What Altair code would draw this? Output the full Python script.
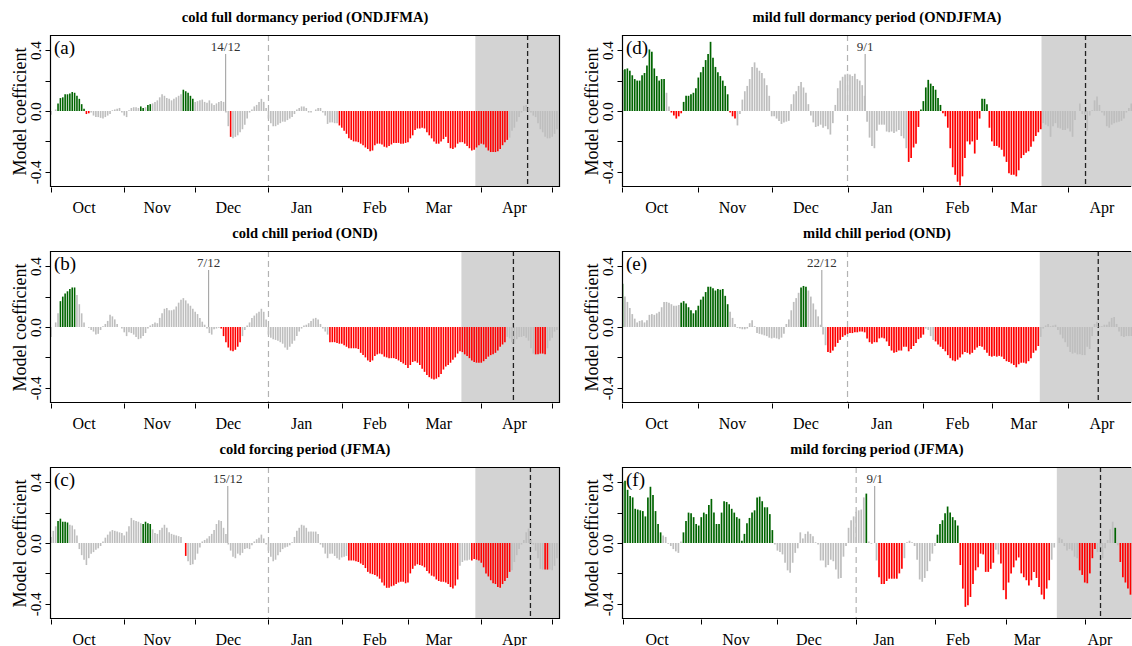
import altair as alt
import pandas as pd

FONT = "Liberation Serif"
W, H = 510, 152
GREEN, RED, GRAY = "#006400", "#ff0000", "#bebebe"

MONTHS = ["Oct", "Nov", "Dec", "Jan", "Feb", "Mar", "Apr"]
MONTH_MID = [14, 45, 75, 106, 137, 164, 196]
F_MONTH_MID = [13.6, 44.7, 73.4, 102.9, 132.1, 159.3, 188.0]
MONTH_START = [0, 31, 61, 92, 123, 151, 182, 212]

# ---------------- panel (a) cold full dormancy ----------------
A_VAL = [
    -0.025, 0.0, 0.01, 0.05, 0.085, 0.09, 0.11, 0.11, 0.115, 0.125,
    0.12, 0.10, 0.08, 0.045, 0.015, -0.02, -0.015, -0.01, -0.03, -0.04,
    -0.04, -0.045, -0.05, -0.04, -0.03, -0.02, 0.005, 0.01, 0.015, 0.02,
    -0.01, -0.03, -0.04, 0.005, 0.02, 0.025, 0.025, 0.02, 0.03, 0.02,
    0.025, 0.04, 0.045, 0.05, 0.06, 0.07, 0.09, 0.11, 0.1, 0.085,
    0.08, 0.07, 0.08, 0.09, 0.1, 0.11, 0.14, 0.13, 0.12, 0.1,
    0.08, 0.06, 0.065, 0.07, 0.075, 0.06, 0.055, 0.07, 0.05, 0.04,
    0.05, 0.06, 0.065, 0.06, -0.01, -0.1, -0.17, -0.18, -0.17, -0.16,
    -0.14, -0.12, -0.09, -0.05, -0.01, 0.01, 0.03, 0.04, 0.06, 0.08,
    0.06, 0.02, -0.05, -0.08, -0.1, -0.1, -0.09, -0.08, -0.07, -0.07,
    -0.06, -0.05, -0.04, -0.02, 0.01, 0.02, 0.03, 0.03, 0.02, -0.01,
    -0.01, 0.0, 0.01, 0.02, 0.02, -0.01, -0.03, -0.085, -0.075, -0.075,
    -0.08, -0.08, -0.095, -0.11, -0.13, -0.15, -0.18, -0.19, -0.2, -0.2,
    -0.205, -0.215, -0.225, -0.24, -0.25, -0.265, -0.26, -0.225, -0.215, -0.215,
    -0.22, -0.235, -0.24, -0.23, -0.22, -0.21, -0.21, -0.21, -0.215, -0.215,
    -0.21, -0.205, -0.18, -0.16, -0.125, -0.115, -0.115, -0.11, -0.115, -0.14,
    -0.16, -0.18, -0.2, -0.215, -0.215, -0.2, -0.185, -0.17, -0.21, -0.245,
    -0.25, -0.24, -0.215, -0.205, -0.205, -0.215, -0.23, -0.245, -0.26, -0.255,
    -0.24, -0.225, -0.215, -0.22, -0.24, -0.26, -0.27, -0.27, -0.27, -0.265,
    -0.25, -0.225, -0.205, -0.19, -0.175, -0.13, -0.11, -0.07, -0.04, -0.01,
    0.035, 0.04, 0.02, -0.01, -0.03, -0.04, -0.08, -0.12, -0.14, -0.17,
    -0.18, -0.18, -0.17, -0.15, -0.12,
]
A_GREEN = [(3, 14), (38, 39), (41, 42), (56, 60)]
A_RED = [(15, 16), (76, 76), (122, 193)]

# ---------------- panel (b) cold chill ----------------
B_VAL = [
    -0.065, 0.0, 0.03, 0.09, 0.17, 0.2, 0.22, 0.235, 0.25, 0.26,
    0.26, 0.21, 0.15, 0.09, 0.03, 0.0, -0.005, -0.02, -0.03, -0.05,
    -0.045, -0.02, 0.005, 0.02, 0.04, 0.08, 0.07, 0.05, 0.02, 0.0,
    -0.01, -0.035, -0.06, -0.035, -0.04, -0.05, -0.065, -0.08, -0.075, -0.06,
    -0.04, -0.01, 0.01, 0.02, 0.03, 0.025, 0.06, 0.09, 0.12, 0.125,
    0.11, 0.11, 0.115, 0.135, 0.16, 0.18, 0.19, 0.175, 0.155, 0.14,
    0.12, 0.1, 0.085, 0.06, 0.035, 0.015, -0.01, -0.04, -0.05, -0.015,
    -0.01, -0.005, -0.01, -0.06, -0.1, -0.135, -0.155, -0.16, -0.15, -0.13,
    -0.1, -0.06, -0.02, 0.01, 0.03, 0.06, 0.075, 0.09, 0.1, 0.12,
    0.1, 0.05, -0.05, -0.07, -0.08, -0.085, -0.09, -0.1, -0.11, -0.135,
    -0.15, -0.13, -0.11, -0.09, -0.06, -0.03, -0.01, 0.01, 0.015, 0.025,
    0.04, 0.055, 0.06, 0.05, 0.02, -0.01, -0.03, -0.05, -0.1, -0.1,
    -0.1, -0.105, -0.11, -0.11, -0.12, -0.13, -0.14, -0.14, -0.14, -0.14,
    -0.145, -0.17, -0.185, -0.2, -0.22, -0.23, -0.22, -0.19, -0.18, -0.175,
    -0.18, -0.195, -0.2, -0.205, -0.205, -0.205, -0.21, -0.22, -0.23, -0.24,
    -0.25, -0.27, -0.25, -0.23, -0.225, -0.235, -0.25, -0.275, -0.295, -0.315,
    -0.33, -0.34, -0.345, -0.34, -0.33, -0.31, -0.28, -0.26, -0.25, -0.235,
    -0.215, -0.2, -0.175, -0.16, -0.165, -0.18, -0.19, -0.205, -0.22, -0.23,
    -0.235, -0.235, -0.235, -0.225, -0.21, -0.195, -0.185, -0.18, -0.17, -0.155,
    -0.13, -0.115, -0.1, -0.065, -0.075, -0.1, -0.11, -0.08, -0.065, -0.065,
    -0.06, -0.07, -0.09, -0.14, -0.175, -0.18, -0.18, -0.175, -0.175, -0.18,
    -0.14, -0.09, -0.07, -0.03, -0.02,
]
B_GREEN = [(4, 10)]
B_RED = [(72, 80), (118, 192), (205, 209)]

# ---------------- panel (c) cold forcing ----------------
C_VAL = [
    0.04, 0.08, 0.11, 0.145, 0.16, 0.14, 0.14, 0.135, 0.12, 0.115,
    0.09, 0.05, -0.04, -0.08, -0.11, -0.145, -0.1, -0.07, -0.06, -0.045,
    -0.035, -0.02, 0.01, 0.035, 0.055, 0.075, 0.085, 0.08, 0.075, 0.07,
    0.065, 0.05, 0.075, 0.11, 0.165, 0.15, 0.145, 0.14, 0.13, 0.125,
    0.14, 0.13, 0.125, 0.09, 0.065, 0.06, 0.085, 0.1, 0.12, 0.1,
    0.07, 0.06, 0.055, 0.05, 0.045, 0.04, 0.0, -0.085, -0.12, -0.145,
    -0.14, -0.11, -0.07, -0.03, 0.01, 0.02, 0.03, 0.045, 0.06, 0.085,
    0.125, 0.15, 0.145, 0.1, 0.06, -0.01, -0.05, -0.09, -0.1, -0.07,
    -0.08, -0.065, -0.04, -0.035, -0.04, -0.015, 0.01, 0.025, 0.035, 0.055,
    0.03, -0.01, -0.05, -0.09, -0.12, -0.11, -0.08, -0.06, -0.04, -0.03,
    -0.025, -0.015, 0.005, 0.04, 0.08, 0.1, 0.12, 0.115, 0.1, 0.075,
    0.075, 0.075, 0.075, 0.06, -0.01, -0.03, -0.07, -0.1, -0.07, -0.07,
    -0.085, -0.1, -0.11, -0.095, -0.09, -0.085, -0.115, -0.115, -0.115, -0.12,
    -0.125, -0.135, -0.145, -0.165, -0.19, -0.2, -0.205, -0.21, -0.22, -0.235,
    -0.26, -0.28, -0.295, -0.295, -0.285, -0.28, -0.27, -0.26, -0.255, -0.255,
    -0.265, -0.26, -0.2, -0.17, -0.15, -0.14, -0.145, -0.15, -0.16, -0.185,
    -0.2, -0.215, -0.22, -0.24, -0.25, -0.255, -0.255, -0.26, -0.27, -0.29,
    -0.3, -0.28, -0.24, -0.15, -0.125, -0.115, -0.115, -0.11, -0.115, -0.105,
    -0.11, -0.115, -0.13, -0.16, -0.2, -0.22, -0.245, -0.265, -0.27, -0.29,
    -0.295, -0.27, -0.25, -0.23, -0.19, -0.18, -0.125, -0.08, -0.04, -0.01,
    0.02, 0.07, 0.095, 0.02, -0.01, -0.05, -0.1, -0.17, -0.175, -0.175,
    -0.175, -0.175, -0.18, -0.15, -0.1,
]
C_GREEN = [(3, 7), (39, 42)]
C_RED = [(57, 57), (126, 172), (178, 194), (209, 210)]

# ---------------- panel (d) mild full dormancy ----------------
D_VAL = [
    0.27, 0.275, 0.28, 0.265, 0.235, 0.21, 0.2, 0.2, 0.235, 0.25,
    0.3, 0.405, 0.39, 0.28, 0.23, 0.2, 0.21, 0.21, 0.12, 0.03,
    -0.01, -0.03, -0.05, -0.035, -0.015, 0.06, 0.1, 0.1, 0.11, 0.12,
    0.15, 0.22, 0.255, 0.29, 0.335, 0.375, 0.455, 0.35, 0.29, 0.255,
    0.23, 0.2, 0.165, 0.11, -0.01, -0.035, -0.05, -0.095, -0.02, 0.075,
    0.13, 0.165, 0.21, 0.29, 0.32, 0.285, 0.265, 0.25, 0.215, 0.17,
    0.1, -0.035, -0.035, -0.05, -0.065, -0.085, -0.075, -0.07, -0.065, 0.045,
    0.11, 0.13, 0.165, 0.19, 0.155, 0.12, 0.045, -0.03, -0.075, -0.105,
    -0.1, -0.09, -0.11, -0.1, -0.12, -0.155, -0.08, 0.04, 0.15, 0.2,
    0.225, 0.24, 0.245, 0.24, 0.23, 0.245, 0.21, 0.2, 0.17, 0.1,
    -0.07, -0.175, -0.23, -0.245, -0.13, -0.09, -0.09, -0.09, -0.135, -0.14,
    -0.135, -0.145, -0.135, -0.125, -0.165, -0.18, -0.245, -0.335, -0.31, -0.24,
    -0.215, -0.105, 0.01, 0.065, 0.155, 0.205, 0.18, 0.165, 0.14, 0.085,
    0.04, -0.015, -0.035, -0.11, -0.245, -0.37, -0.42, -0.465, -0.49, -0.43,
    -0.31, -0.2, -0.22, -0.2, -0.28, -0.19, -0.05, 0.08, 0.08, 0.045,
    -0.11, -0.2, -0.23, -0.23, -0.24, -0.255, -0.3, -0.335, -0.41, -0.42,
    -0.42, -0.43, -0.39, -0.31, -0.29, -0.275, -0.265, -0.235, -0.2, -0.165,
    -0.14, -0.12, -0.08, -0.09, -0.1, -0.17, -0.1, -0.08, -0.11, -0.115,
    -0.125, -0.125, -0.115, -0.135, -0.17, -0.06, 0.0, 0.05, -0.02, -0.025,
    -0.13, -0.03, 0.005, 0.07, 0.095, 0.04, -0.01, -0.03, -0.1, -0.11,
    -0.09, -0.08, -0.075, -0.07, -0.065, -0.05, -0.01, 0.02, 0.05,
]
D_GREEN = [(0, 17), (25, 43), (122, 130), (147, 149)]
D_RED = [(20, 24), (44, 46), (117, 121), (131, 146), (150, 171)]

# ---------------- panel (e) mild chill ----------------
E_VAL = [
    0.285, 0.2, 0.165, 0.125, 0.085, 0.055, 0.03, 0.04, 0.045, 0.03,
    0.045, 0.08, 0.085, 0.08, 0.09, 0.1, 0.13, 0.165, 0.165, 0.16,
    0.15, 0.14, 0.14, 0.145, 0.16, 0.17, 0.155, 0.13, 0.11, 0.09,
    0.11, 0.14, 0.18, 0.2, 0.23, 0.265, 0.265, 0.255, 0.24, 0.25,
    0.245, 0.25, 0.205, 0.15, 0.1, 0.06, 0.02, -0.005, -0.01, -0.015,
    -0.015, -0.01, 0.025, 0.045, 0.005, -0.04, -0.045, -0.05, -0.055, -0.06,
    -0.07, -0.075, -0.07, -0.075, -0.08, -0.07, -0.045, 0.02, 0.05, 0.11,
    0.165, 0.19, 0.225, 0.26, 0.27, 0.265, 0.24, 0.2, 0.155, 0.115,
    0.07, 0.015, -0.05, -0.12, -0.165, -0.17, -0.155, -0.13, -0.105, -0.085,
    -0.065, -0.055, -0.045, -0.04, -0.04, -0.035, -0.035, -0.03, -0.03, -0.035,
    -0.075, -0.1, -0.11, -0.1, -0.1, -0.075, -0.07, -0.075, -0.095, -0.125,
    -0.155, -0.17, -0.165, -0.155, -0.155, -0.13, -0.13, -0.16, -0.145, -0.125,
    -0.105, -0.08, -0.07, -0.05, -0.01, -0.02, -0.06, -0.085, -0.095, -0.115,
    -0.13, -0.145, -0.16, -0.185, -0.205, -0.22, -0.225, -0.215, -0.2, -0.18,
    -0.165, -0.17, -0.18, -0.17, -0.15, -0.135, -0.125, -0.13, -0.15, -0.17,
    -0.19, -0.195, -0.19, -0.195, -0.19, -0.195, -0.21, -0.225, -0.23, -0.24,
    -0.25, -0.265, -0.245, -0.235, -0.235, -0.24, -0.225, -0.205, -0.17, -0.155,
    -0.125, -0.065, -0.01, 0.01, 0.02, 0.005, 0.01, 0.015, -0.02, -0.05,
    -0.075, -0.1, -0.13, -0.165, -0.175, -0.17, -0.18, -0.18, -0.185, -0.185,
    -0.13, -0.145, -0.06, 0.02, 0.035, 0.005, 0.005, 0.015, 0.015, 0.035,
    0.06, 0.065, 0.02, -0.03, -0.06, -0.065, -0.06, -0.06, -0.06,
]
E_GREEN = [(0, 0), (24, 43), (73, 75)]
E_RED = [(84, 123), (128, 170)]

# ---------------- panel (f) mild forcing ----------------
F_VAL = [
    0.4, 0.41, 0.35, 0.31, 0.3, 0.225, 0.22, 0.215, 0.21, 0.175,
    0.3, 0.37, 0.315, 0.21, 0.125, 0.07, 0.05, 0.04, -0.005, -0.02,
    -0.04, -0.055, -0.065, 0.01, 0.07, 0.145, 0.2, 0.195, 0.17, 0.125,
    0.115, 0.17, 0.2, 0.19, 0.25, 0.29, 0.2, 0.125, 0.125, 0.2,
    0.275, 0.27, 0.255, 0.225, 0.2, 0.17, 0.16, 0.015, 0.06, 0.13,
    0.165, 0.2, 0.215, 0.3, 0.305, 0.275, 0.235, 0.235, 0.19, 0.085,
    -0.01, -0.05, -0.06, -0.075, -0.13, -0.18, -0.195, -0.13, -0.065, -0.035,
    0.07, 0.03, 0.06, 0.075, 0.06, 0.045, 0.005, -0.01, -0.115, -0.115,
    -0.16, -0.145, -0.11, -0.12, -0.175, -0.235, -0.23, -0.09, -0.02, 0.1,
    0.15, 0.175, 0.205, 0.215, 0.22, 0.3, 0.325, 0.01, -0.005, 0.0,
    -0.115, -0.225, -0.27, -0.27, -0.25, -0.235, -0.235, -0.235, -0.235, -0.2,
    -0.17, -0.1, 0.005, 0.015, 0.005, -0.02, -0.11, -0.24, -0.255, -0.23,
    -0.185, -0.12, -0.07, -0.02, 0.055, 0.125, 0.15, 0.195, 0.24, 0.2,
    0.17, 0.15, 0.115, -0.145, -0.3, -0.42, -0.41, -0.355, -0.27, -0.18,
    -0.16, -0.07, -0.075, -0.19, -0.19, -0.17, -0.13, -0.045, -0.075, -0.135,
    -0.31, -0.37, -0.26, -0.2, -0.16, -0.115, -0.095, -0.2, -0.225, -0.245,
    -0.28, -0.245, -0.19, -0.23, -0.29, -0.34, -0.37, -0.3, -0.245, -0.11,
    -0.03, 0.0, 0.035, 0.025, -0.02, -0.05, -0.04, -0.05, -0.09, -0.1,
    -0.18, -0.21, -0.26, -0.265, -0.2, -0.1, -0.04, -0.06, -0.03, -0.1,
    -0.035, 0.02, 0.09, 0.14, 0.1, -0.015, -0.125, -0.225, -0.26, -0.3,
    -0.34,
]
F_GREEN = [(0, 15), (24, 59), (96, 96), (124, 132), (194, 194)]
F_RED = [(101, 110), (133, 146), (149, 168), (180, 186), (196, 200)]

LEFT_DOM = [-0.4, 215.3]
RIGHT_DOM = [-0.2, 208.3]
F_DOM = [-0.2, 200.6]


def panel(letter, title, vals, green, red, xdom, shade, black, date_pos,
          date_txt, col, row, mids=MONTH_MID):
    n = len(vals)
    sig = ["n"] * n
    for s, e in green:
        for d in range(s, e + 1):
            sig[d] = "g"
    for s, e in red:
        for d in range(s, e + 1):
            sig[d] = "r"
    df = pd.DataFrame({"day": list(range(n)), "value": vals, "sig": sig})
    xs = alt.Scale(domain=xdom, nice=False, zero=False)
    ys = alt.Scale(domain=[-0.5, 0.5], nice=False, zero=False)
    ticks = [m for m in MONTH_START if xdom[0] <= m <= xdom[1]]
    one = pd.DataFrame({"k": [0]})
    xr = W if col == 0 else W - 1

    yaxis = alt.Axis(
        values=[-0.4, -0.2, 0, 0.2, 0.4],
        labelExpr="datum.value > 0.3 ? '0.4' : (datum.value < -0.3 ? '-0.4' : (abs(datum.value) < 0.05 ? '0.0' : ''))",
        labelAngle=-90, labelAlign="center", labelBaseline="bottom",
        labelFont=FONT, labelFontSize=15, labelColor="black", labelPadding=2,
        labelOverlap=False, labelFlush=False,
        tickSize=5, tickColor="black", domain=False, grid=False,
        title="Model coefficient", titleFont=FONT, titleFontSize=18,
        titleFontWeight="normal", titleColor="black", titlePadding=-1)
    xaxis = alt.Axis(values=ticks, labels=False, domain=False, grid=False,
                     tickSize=5, tickColor="black", title=None)

    def X(f="day:Q"):
        return alt.X(f, scale=xs, axis=xaxis)

    def Y(f="value:Q"):
        return alt.Y(f, scale=ys, axis=yaxis)

    shade_l = alt.Chart(pd.DataFrame({"day": [shade], "day2": [xdom[1]]})).mark_rect(
        color="#d3d3d3").encode(x=X(), x2="day2:Q", y=alt.value(0), y2=alt.value(H))
    jan = alt.Chart(pd.DataFrame({"day": [92]})).mark_rule(
        color="#b3b3b3", strokeWidth=1.2, strokeDash=[6, 4]).encode(
        x=X(), y=alt.value(0), y2=alt.value(H))
    blk = alt.Chart(pd.DataFrame({"day": [black]})).mark_rule(
        color="#222222", strokeWidth=1.3, strokeDash=[5, 3]).encode(
        x=X(), y=alt.value(0), y2=alt.value(H))
    dline = alt.Chart(pd.DataFrame({"day": [date_pos], "value": [0.375], "v0": [0.0]})).mark_rule(
        color="#9a9a9a", strokeWidth=1).encode(x=X(), y=Y(), y2="v0:Q")
    dtext = alt.Chart(pd.DataFrame({"day": [date_pos], "value": [0.42], "label": [date_txt]})).mark_text(
        font=FONT, fontSize=13, color="#333333", baseline="middle").encode(
        x=X(), y=Y(), text="label:N")

    bars = alt.Chart(df).mark_rule(strokeWidth=1.6 if col == 0 else 1.7, clip=True).encode(
        x=X(), y=Y(), y2=alt.datum(0),
        color=alt.Color("sig:N", scale=alt.Scale(domain=["g", "r", "n"],
                                                 range=[GREEN, RED, GRAY]), legend=None),
    )
    let = alt.Chart(one).mark_text(font=FONT, fontSize=19, align="left", baseline="middle",
                                   color="black").encode(
        x=alt.value(4), y=alt.value(13), text=alt.value(letter))
    months = alt.Chart(pd.DataFrame({"day": mids, "label": MONTHS})).mark_text(
        font=FONT, fontSize=16, baseline="alphabetic", color="black").encode(
        x=X(), y=alt.value(H + 25.5), text="label:N")

    def hline(y):
        return alt.Chart(one).mark_rule(color="black", strokeWidth=1.2).encode(
            x=alt.value(0), x2=alt.value(xr), y=alt.value(y))

    def vline(x):
        return alt.Chart(one).mark_rule(color="black", strokeWidth=1.2).encode(
            x=alt.value(x), y=alt.value(0), y2=alt.value(H))

    frame = [hline(0.5), hline(H - 0.5), vline(0.5)]
    if col == 0:
        frame.append(vline(W - 0.5))

    px = -50 if col == 0 else 10
    py = H + 28 if row == 2 else 10
    pins = [alt.Chart(one).mark_rect(opacity=0).encode(
        x=alt.value(px), x2=alt.value(px + 1), y=alt.value(py), y2=alt.value(py + 1))]

    layers = [shade_l, jan, blk, dline, bars, dtext, let, months] + frame + pins
    return alt.layer(*layers).properties(
        width=W, height=H,
        title=alt.TitleParams(title, font=FONT, fontSize=14.5, fontWeight="bold",
                              color="black", anchor="middle", frame="group", offset=9))


pa = panel("(a)", "cold full dormancy period (ONDJFMA)", A_VAL, A_GREEN, A_RED,
           LEFT_DOM, 179.5, 201.6, 73.9, "14/12", 0, 0)
pb = panel("(b)", "cold chill period (OND)", B_VAL, B_GREEN, B_RED,
           LEFT_DOM, 173.6, 195.6, 66.7, "7/12", 0, 1)
pc = panel("(c)", "cold forcing period (JFMA)", C_VAL, C_GREEN, C_RED,
           LEFT_DOM, 179.5, 202.8, 74.8, "15/12", 0, 2)
pdd = panel("(d)", "mild full dormancy period (ONDJFMA)", D_VAL, D_GREEN, D_RED,
            RIGHT_DOM, 171.3, 189.3, 99.2, "9/1", 1, 0)
pe = panel("(e)", "mild chill period (OND)", E_VAL, E_GREEN, E_RED,
           RIGHT_DOM, 170.6, 194.5, 81.5, "22/12", 1, 1)
pf = panel("(f)", "mild forcing period (JFMA)", F_VAL, F_GREEN, F_RED,
           F_DOM, 171.0, 188.2, 99.3, "9/1", 1, 2, mids=F_MONTH_MID)

chart = alt.concat(pa, pdd, pb, pe, pc, pf, columns=2,
                   spacing={"row": 64, "column": 62}, bounds="flush").properties(
    padding={"left": 0, "top": 9, "right": 0, "bottom": 0},
    background="white").configure_view(stroke=None)

chart.save("out.html", embed_options={"renderer": "svg", "actions": False})
